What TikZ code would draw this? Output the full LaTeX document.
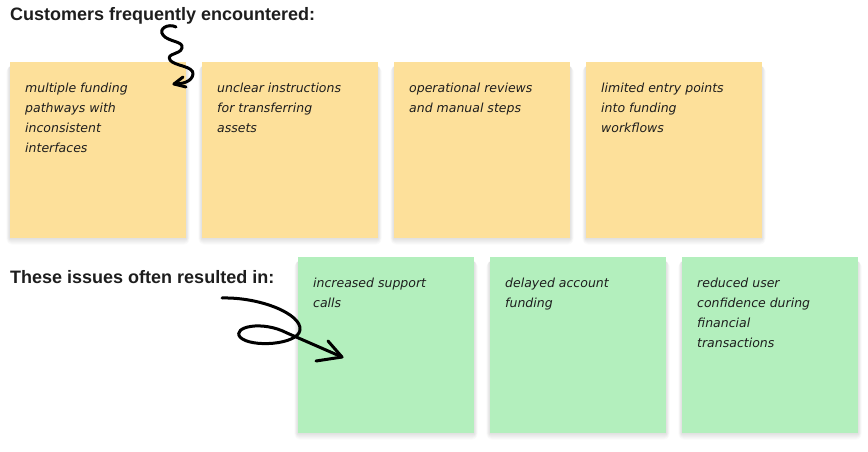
\documentclass[tikz,border=0pt]{standalone}
\usepackage{fontspec}
\setsansfont{Liberation Sans}
\newfontfamily\handfont{DejaVu Sans}
\usetikzlibrary{calc}
\definecolor{noteyellow}{RGB}{253,224,154}
\definecolor{notegreen}{RGB}{179,239,189}
\definecolor{inkc}{RGB}{30,30,30}
\begin{document}
\begin{tikzpicture}[x=1pt,y=-1pt,
  note/.style={draw=none, minimum width=176pt, minimum height=176pt, inner sep=0pt, anchor=north west},
  ynote/.style={note, fill=noteyellow},
  gnote/.style={note, fill=notegreen},
  notetext/.style={anchor=north west, inner sep=0pt, align=left, text=inkc,
     font=\fontsize{12.5}{20}\selectfont\handfont\itshape},
  heading/.style={anchor=base west, inner sep=0pt, text=inkc, font=\fontsize{18}{21}\selectfont\sffamily\bfseries},
  scrawl/.style={line width=3pt, line cap=round, line join=round, black},
  shade/.style={fill=black, fill opacity=0.018, draw=none}
]
\useasboundingbox[fill=white] (0,0) rectangle (868,452);

% soft shadows
\foreach \px/\py in {10/62,202/62,394/62,586/62,298/257,490/257,682/257}{
  \foreach \d in {1,2,3,4,5,6}{
    \fill[shade, rounded corners=\d pt] (\px-\d*0.6,\py+4) rectangle (\px+176+\d*0.6,\py+176+\d*1.1);
  }
}

\node[ynote] (y1) at (10,62) {};
\node[ynote] (y2) at (202,62) {};
\node[ynote] (y3) at (394,62) {};
\node[ynote] (y4) at (586,62) {};

\node[gnote] (g1) at (298,257) {};
\node[gnote] (g2) at (490,257) {};
\node[gnote] (g3) at (682,257) {};

\node[heading] (h1) at (10,21) {Customers frequently encountered:};
\node[heading] (h2) at (10,283) {These issues often resulted in:};

\node[notetext] (ty1) at ($(y1.north west)+(15,21)$) {multiple funding\\pathways with\\inconsistent\\interfaces};
\node[notetext] (ty2) at ($(y2.north west)+(15,21)$) {unclear instructions\\for transferring\\assets};
\node[notetext] (ty3) at ($(y3.north west)+(15,21)$) {operational reviews\\and manual steps};
\node[notetext] (ty4) at ($(y4.north west)+(15,21)$) {limited entry points\\into funding\\workflows};

\node[notetext] (tg1) at ($(g1.north west)+(15,21)$) {increased support\\calls};
\node[notetext] (tg2) at ($(g2.north west)+(15,21)$) {delayed account\\funding};
\node[notetext] (tg3) at ($(g3.north west)+(15,21)$) {reduced user\\confidence during\\financial\\transactions};

% squiggle arrow
\coordinate (s0) at (176,27);
\coordinate (s1) at (174,84);
\draw[scrawl] (s0) .. controls (168,23) and (158,29) .. (163,35)
  .. controls (168,42) and (184,41) .. (182,48)
  .. controls (180,55) and (166,53) .. (170,60)
  .. controls (174,66) and (194,66) .. (193,74)
  .. controls (192,82) and (182,84) .. (s1);
\draw[scrawl] (183,77) -- (s1) -- (186,87);

% loop arrow
\coordinate (a0) at (222,298);
\coordinate (a1) at (342,357);
\draw[scrawl] (a0) .. controls (260,297) and (302,314) .. (300,330)
  .. controls (298,345) and (250,348) .. (240,337)
  .. controls (232,327) and (262,320) .. (287,333) -- (a1);
\draw[scrawl] (328,341) -- (a1) -- (316,361);
\end{tikzpicture}
\end{document}
